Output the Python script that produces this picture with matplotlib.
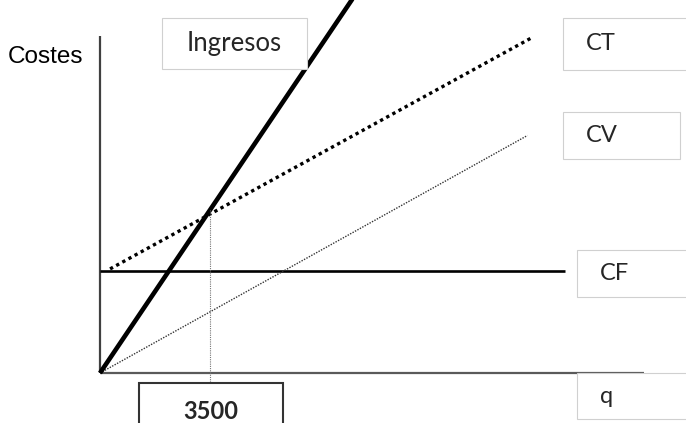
import matplotlib.pyplot as plt
from matplotlib.patches import Rectangle

# datos del punto muerto (q en unidades, costes en euros)
q_equilibrio = 3500
ingresos_q = [0, 8500]
ingresos_v = [0, 170000]
ct_q = [320, 13780]
ct_v = [44700, 144300]
cv_q = [0, 13600]
cv_v = [0, 102000]
cf_q = [0, 14800]
cf_v = [43900, 43900]
eje_q_max = 17300
eje_c_max = 144700

W, H = 686, 423
fig = plt.figure(figsize=(W / 100, H / 100), dpi=100)
ax = fig.add_axes([0, 0, 1, 1])

# escala: origen en el pixel (100, 373)
qpp = q_equilibrio / 110.0
cpp = 70000 / 163.0
ax.set_xlim(-100 * qpp, (W - 100) * qpp)
ax.set_ylim(-(H - 373) * cpp, 373 * cpp)
ax.axis('off')

# ejes
ax.plot([0, 0], [0, eje_c_max], color='#404040', lw=1.6, solid_capstyle='butt')
ax.plot([0, eje_q_max], [0, 0], color='#5a5a5a', lw=1.6, solid_capstyle='butt')

ax.plot(cf_q, cf_v, color='black', lw=1.9, solid_capstyle='butt')
ax.plot(cv_q, cv_v, color='#333333', lw=1.0, linestyle=(0, (1, 1)))
ax.plot(ct_q, ct_v, color='black', lw=2.4, linestyle=(0, (1, 1.1)))
ax.plot(ingresos_q, ingresos_v, color='black', lw=3.3, solid_capstyle='butt')
ax.plot([q_equilibrio, q_equilibrio], [-9 * cpp, 70000], color='#777777',
        lw=0.8, linestyle=(0, (1, 1)))


def caja(x0, y0, x1, y1, texto, tx=None, color='#d0d0d0', lw=0.8,
         bold=False, size=17):
    r = Rectangle((x0 / W, 1 - y1 / H), (x1 - x0) / W, (y1 - y0) / H,
                  transform=fig.transFigure, facecolor='white',
                  edgecolor=color, lw=lw, zorder=5)
    fig.add_artist(r)
    yc = 1 - (y0 + y1) / 2 / H
    if tx is None:
        fig.text((x0 + x1) / 2 / W, yc, texto, ha='center', va='center',
                 fontsize=size, family='Lato', color='#262626',
                 fontweight='bold' if bold else 'normal', zorder=6)
    else:
        fig.text(tx / W, yc, texto, ha='left', va='center', fontsize=size,
                 family='Lato', color='#262626', zorder=6)


caja(162, 18, 307, 69, 'Ingresos', size=18.5)
caja(563, 18, 700, 70, 'CT', tx=586)
caja(563, 112, 680, 159, 'CV', tx=586)
caja(577, 250, 700, 297, 'CF', tx=600)
caja(577, 373, 700, 419, 'q', tx=600)
caja(139, 383, 283, 440, str(q_equilibrio), color='#333333', lw=1.5,
     bold=True, size=17)

fig.text(8 / W, 1 - 57 / H, 'Costes', ha='left', va='center', fontsize=17.5,
         family='Liberation Sans', color='black')

fig.savefig('out.png', dpi=100)
